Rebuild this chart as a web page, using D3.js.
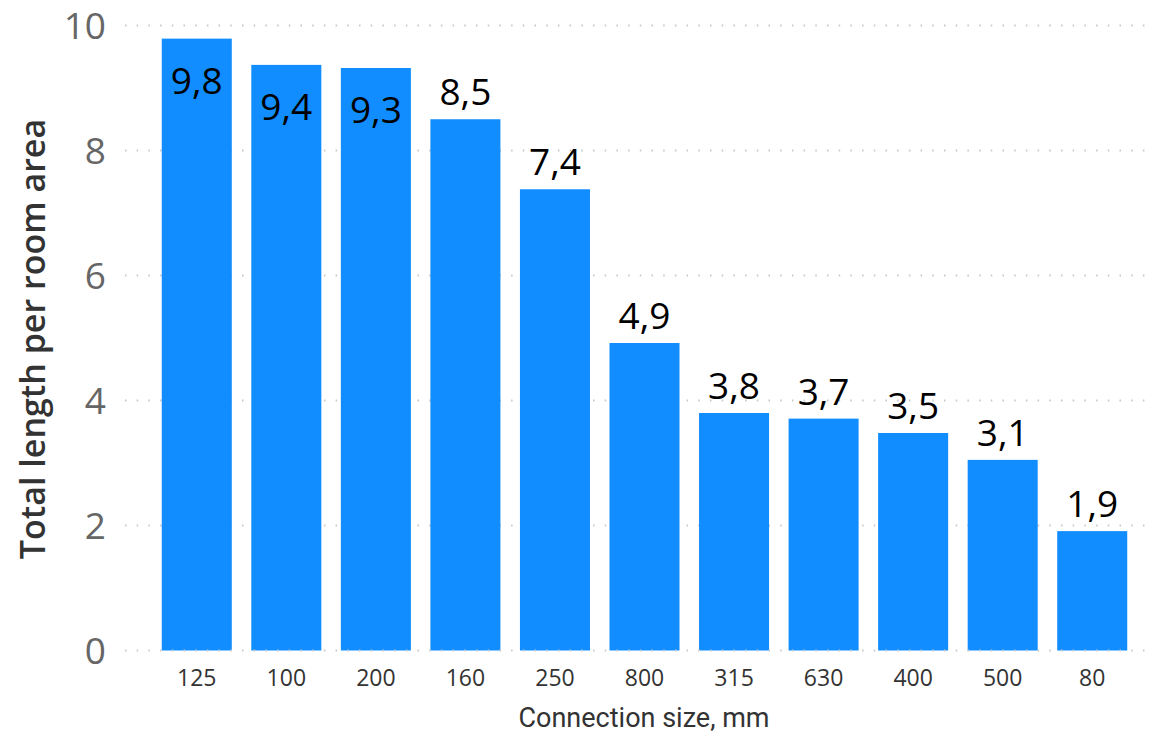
<!DOCTYPE html>
<html><head><meta charset="utf-8">
<script src="https://cdn.jsdelivr.net/npm/d3@7"></script>
<style>body{margin:0;background:#fff}</style>
</head><body>
<svg id="c" width="1156" height="734"></svg>
<script>
const categories = ["125","100","200","160","250","800","315","630","400","500","80"];
const values = [9.79, 9.37, 9.32, 8.50, 7.38, 4.92, 3.80, 3.71, 3.48, 3.05, 1.91];
const labels = ["9,8","9,4","9,3","8,5","7,4","4,9","3,8","3,7","3,5","3,1","1,9"];
const yTicks = [0, 2, 4, 6, 8, 10];

const svg = d3.select("#c");
const x = d3.scaleBand().domain(categories).range([152, 1137]).paddingInner(0.218).paddingOuter(0.109);
const y = d3.scaleLinear().domain([0, 10]).range([650.5, 25.5]);

// gridlines
const grid = svg.append("g");
grid.selectAll("line").data(yTicks.filter(d => d > 0)).join("line")
  .attr("x1", 125).attr("x2", 1152)
  .attr("y1", d => y(d)).attr("y2", d => y(d))
  .attr("stroke", "#c8c8c8").attr("stroke-width", 2)
  .attr("stroke-dasharray", "1.5,10.2");

// bars
svg.append("g").selectAll("rect").data(values).join("rect")
  .attr("x", (d, i) => x(categories[i]))
  .attr("width", x.bandwidth())
  .attr("y", d => y(d))
  .attr("height", d => y(0) - y(d))
  .attr("fill", "#118DFF");

// zero line on top
svg.append("line").attr("x1", 125).attr("x2", 1152).attr("y1", y(0)).attr("y2", y(0))
  .attr("stroke", "#c8c8c8").attr("stroke-width", 2).attr("stroke-dasharray", "1.5,10.2");

// y axis
const yAxis = svg.append("g").attr("transform", "translate(106,0)")
  .call(d3.axisLeft(y).tickValues(yTicks).tickSize(0).tickPadding(0).tickFormat(d3.format("d")));
yAxis.select(".domain").remove();
yAxis.selectAll("text").attr("fill", "#666666").style("font-family", "'Segoe UI','Open Sans','Noto Sans',sans-serif")
  .style("font-weight", 400).style("font-size", "37px").attr("dy", "0.34em");

// x axis
const xAxis = svg.append("g").attr("transform", `translate(0,${y(0)})`)
  .call(d3.axisBottom(x).tickSize(0).tickPadding(0));
xAxis.select(".domain").remove();
xAxis.selectAll("text").attr("fill", "#333333").attr("dy", 0).attr("y", 35)
  .style("font-family", "'Segoe UI','Open Sans','Noto Sans',sans-serif").style("font-size", "23px");

// data labels
svg.append("g").selectAll("text").data(values).join("text")
  .attr("x", (d, i) => x(categories[i]) + x.bandwidth() / 2)
  .attr("y", d => (y(d) - 48 < y(10)) ? y(d) + 55 : y(d) - 14)
  .attr("text-anchor", "middle")
  .attr("fill", "#000")
  .style("font-family", "'Segoe UI','Open Sans','Noto Sans',sans-serif").style("font-size", "37px")
  .text((d, i) => labels[i]);

// axis titles
svg.append("text").attr("x", 644).attr("y", 727).attr("text-anchor", "middle")
  .attr("fill", "#333333").style("font-family", "Roboto,'DejaVu Sans',sans-serif").style("font-size", "27px")
  .text("Connection size, mm");
svg.append("text").attr("transform", "translate(45,339) rotate(-90)").attr("text-anchor", "middle")
  .attr("fill", "#333333").style("font-family", "'Open Sans','Noto Sans',sans-serif").style("font-weight", 600)
  .style("font-size", "34px")
  .text("Total length per room area");
</script>
</body></html>
